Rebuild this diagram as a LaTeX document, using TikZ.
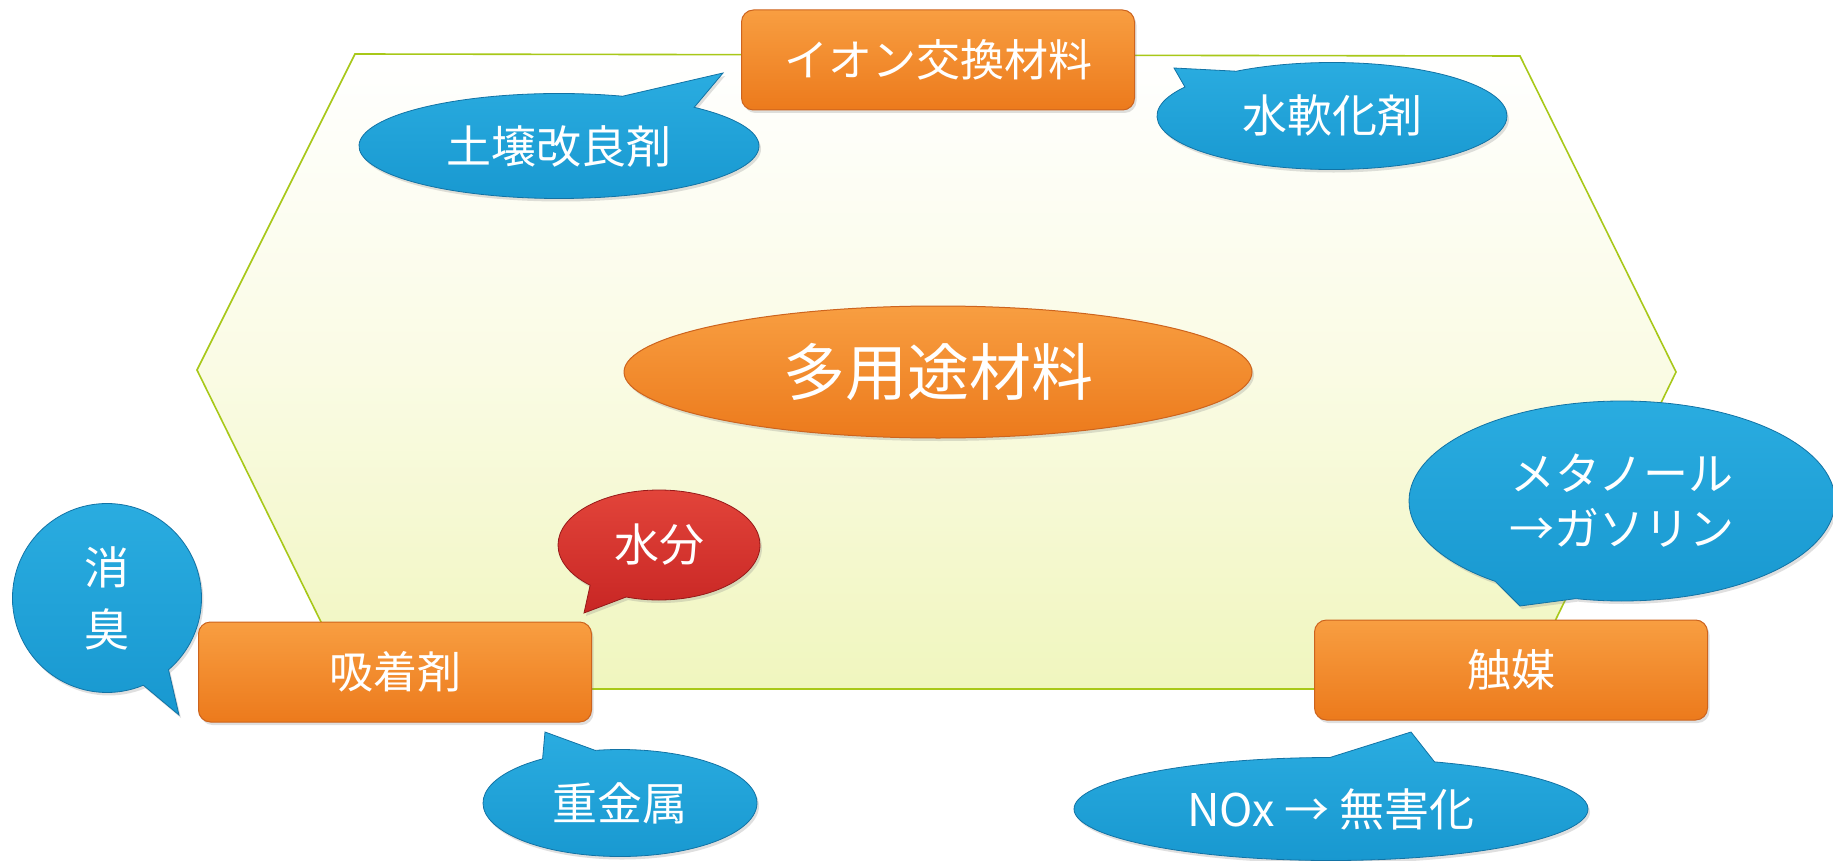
\documentclass[tikz,border=0pt]{standalone}
\usepackage{fontspec}
\setmainfont{Noto Sans CJK JP}
\usetikzlibrary{shapes.geometric,shapes.callouts,shadows}
\definecolor{hexedge}{RGB}{168,200,25}
\definecolor{hexbot}{RGB}{240,246,190}
\definecolor{hexmid}{RGB}{250,251,228}
\definecolor{orgtop}{RGB}{248,158,65}
\definecolor{orgbot}{RGB}{236,122,28}
\definecolor{orgline}{RGB}{205,100,30}
\definecolor{bluetop}{RGB}{42,172,224}
\definecolor{bluebot}{RGB}{24,152,208}
\definecolor{blueline}{RGB}{18,115,165}
\definecolor{redtop}{RGB}{226,68,58}
\definecolor{redbot}{RGB}{200,38,36}
\definecolor{redline}{RGB}{150,25,25}
\begin{document}
\begin{tikzpicture}[x=1pt,y=-1pt,
  shade/.style={drop shadow={opacity=0.25,shadow xshift=2pt,shadow yshift=-3pt}},
  orangebox/.style={rectangle, rounded corners=12pt, top color=orgtop, bottom color=orgbot,
    draw=orgline, line width=1pt, text=white, minimum width=393pt, minimum height=100pt,
    inner sep=0pt, shade, font=\fontsize{44}{52}\selectfont},
  bubble/.style={ellipse callout, callout pointer arc=24, top color=bluetop, bottom color=bluebot,
    draw=blueline, line width=0.8pt, text=white, inner sep=0pt, align=center, shade,
    font=\fontsize{45}{55}\selectfont},
  redbubble/.style={bubble, top color=redtop, bottom color=redbot, draw=redline}]
\useasboundingbox (0,0) rectangle (1833,861);
\fill[white] (0,0) rectangle (1833,861);
% hexagon background
\path[draw=hexedge, line width=1.6pt, top color=white, bottom color=hexbot, middle color=hexmid]
  (355,54) -- (1520,56) -- (1676,372) -- (1522,689) -- (354,689) -- (197,370) -- cycle;
% central ellipse
\node[ellipse, minimum width=628pt, minimum height=132pt, top color=orgtop, bottom color=orgbot,
  draw=orgline, line width=1pt, text=white, inner sep=0pt, shade,
  font=\fontsize{62}{68}\selectfont] (center) at (938,372) {多用途材料};
% tips of callouts
\coordinate (tsoil) at (723,73);
\coordinate (twater) at (1174,68);
\coordinate (todor) at (179,715);
\coordinate (tmoist) at (584,613);
\coordinate (tmetal) at (545,732);
\coordinate (tmeth) at (1520,606);
\coordinate (tnox) at (1411,732);
% callouts
\node[bubble, minimum width=400pt, minimum height=105pt, callout absolute pointer={(tsoil)}]
  (soil) at (559,146) {土壌改良剤};
\node[bubble, minimum width=350pt, minimum height=107pt, callout absolute pointer={(twater)}]
  (water) at (1332,116) {水軟化剤};
\node[bubble, minimum width=189pt, minimum height=189pt, callout absolute pointer={(todor)},
  callout pointer arc=18, font=\fontsize{45}{62}\selectfont] (odor) at (107,598) {消\\臭};
\node[redbubble, minimum width=202pt, minimum height=110pt, callout absolute pointer={(tmoist)}]
  (moist) at (659,545) {水分};
\node[bubble, minimum width=274pt, minimum height=107pt, callout absolute pointer={(tmetal)}]
  (metal) at (620,803) {重金属};
\node[bubble, minimum width=426pt, minimum height=200pt, callout absolute pointer={(tmeth)}]
  (meth) at (1622,501) {メタノール\\→ガソリン};
\node[bubble, minimum width=514pt, minimum height=103pt, callout absolute pointer={(tnox)}]
  (nox) at (1331,809) {NOx → 無害化};
% boxes
\node[orangebox] (ion) at (938,60) {イオン交換材料};
\node[orangebox] (adsorb) at (395,672) {吸着剤};
\node[orangebox] (cat) at (1511,670) {触媒};
\end{tikzpicture}
\end{document}
